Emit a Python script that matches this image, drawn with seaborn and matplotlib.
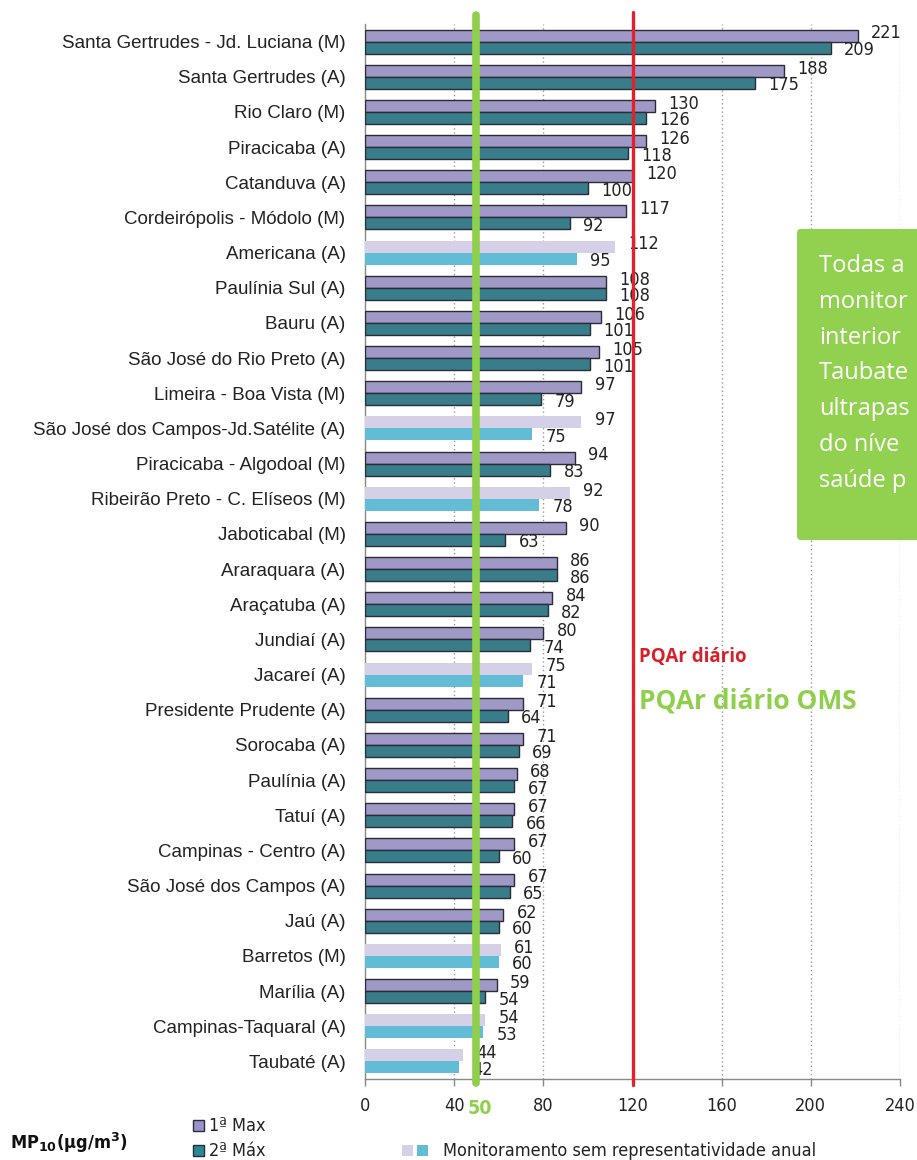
import numpy as np
import pandas as pd
import matplotlib
matplotlib.use("Agg")
import matplotlib.pyplot as plt
import matplotlib.font_manager as fm
import seaborn as sns
from matplotlib.patches import Rectangle, FancyBboxPatch

# ---------------- data ----------------
stations = [
    "Santa Gertrudes - Jd. Luciana (M)", "Santa Gertrudes (A)", "Rio Claro (M)",
    "Piracicaba (A)", "Catanduva (A)", "Cordeirópolis - Módolo (M)", "Americana (A)",
    "Paulínia Sul (A)", "Bauru (A)", "São José do Rio Preto (A)", "Limeira - Boa Vista (M)",
    "São José dos Campos-Jd.Satélite (A)", "Piracicaba - Algodoal (M)",
    "Ribeirão Preto - C. Elíseos (M)", "Jaboticabal (M)", "Araraquara (A)", "Araçatuba (A)",
    "Jundiaí (A)", "Jacareí (A)", "Presidente Prudente (A)", "Sorocaba (A)", "Paulínia (A)",
    "Tatuí (A)", "Campinas - Centro (A)", "São José dos Campos (A)", "Jaú (A)",
    "Barretos (M)", "Marília (A)", "Campinas-Taquaral (A)", "Taubaté (A)",
]
max1 = [221, 188, 130, 126, 120, 117, 112, 108, 106, 105, 97, 97, 94, 92, 90, 86, 84,
        80, 75, 71, 71, 68, 67, 67, 67, 62, 61, 59, 54, 44]
max2 = [209, 175, 126, 118, 100, 92, 95, 108, 101, 101, 79, 75, 83, 78, 63, 86, 82,
        74, 71, 64, 69, 67, 66, 60, 65, 60, 60, 54, 53, 42]
representative = [True, True, True, True, True, True, False, True, True, True, True,
                  False, True, False, True, True, True, True, False, True, True, True,
                  True, True, True, True, False, True, False, False]
series_names = ["1ª Max", "2ª Máx"]
x_ticks = [0, 40, 80, 120, 160, 200, 240]
pqar_limit = 120
oms_limit = 50
# text box as visible in the (cropped) source image
box_lines = ["Todas a", "monitor", "interior", "Taubate", "ultrapas", "do níve", "saúde p"]

# ---------------- style ----------------
C_PURPLE = "#9A92CD"
C_TEAL = "#2A8796"
C_LAV = "#D5D0E8"
C_CYAN = "#63BCD5"
C_GREEN = "#8FCF4C"
C_BOX = "#92D050"
C_RED = "#E1222B"
EDGE = "#2B2B3A"

sns.set_theme(style="white")
plt.rcParams["font.family"] = ["Liberation Sans", "DejaVu Sans"]

# pick a condensed face if one is installed
names = {f.name for f in fm.fontManager.ttflist}
NARROW_KW = {"family": ["Liberation Sans", "DejaVu Sans"]}
if "Liberation Sans Narrow" in names:
    NARROW_KW = {"family": ["Liberation Sans Narrow", "DejaVu Sans"]}
elif "DejaVu Sans Condensed" in names:
    NARROW_KW = {"family": ["DejaVu Sans Condensed", "DejaVu Sans"]}
else:
    cond = [f for f in fm.fontManager.ttflist
            if f.name == "DejaVu Sans" and f.stretch == "condensed" and f.weight in (400, "normal")]
    if cond:
        NARROW_KW = {"family": ["DejaVu Sans"], "fontstretch": "condensed"}
NSIZE = 13 if "Liberation Sans" not in NARROW_KW["family"][0] or "Narrow" in NARROW_KW["family"][0] else 12.5

W, H = 917, 1160
fig = plt.figure(figsize=(W / 100, H / 100), dpi=100)

def fx(px):
    return px / W

def fy(py):
    return 1 - py / H

ax_l, ax_r, ax_t, ax_b = 365, 900, 24, 1079
ax = fig.add_axes([fx(ax_l), fy(ax_b), fx(ax_r - ax_l), (ax_b - ax_t) / H])

df = pd.DataFrame({
    "station": stations * 2,
    "value": max1 + max2,
    "serie": [series_names[0]] * len(stations) + [series_names[1]] * len(stations),
})

sns.barplot(data=df, y="station", x="value", hue="serie", orient="h",
            order=stations, hue_order=series_names, palette=[C_PURPLE, C_TEAL],
            width=0.68, dodge=True, edgecolor=EDGE, linewidth=1.0,
            legend=False, errorbar=None, ax=ax, zorder=3)

light = [C_LAV, C_CYAN]
for si, cont in enumerate(ax.containers):
    for j, bar in enumerate(cont):
        if not representative[j]:
            bar.set_facecolor(light[si])
            bar.set_edgecolor("none")

# value labels
off = 6
for si, cont in enumerate(ax.containers):
    vals = max1 if si == 0 else max2
    for j, bar in enumerate(cont):
        yc = bar.get_y() + bar.get_height() / 2
        dy = -0.06 if si == 0 else 0.07
        ax.text(vals[j] + off, yc + dy, f"{vals[j]}", ha="left", va="center",
                fontsize=NSIZE, color="#222222", zorder=5, **NARROW_KW)

ax.set_xlim(0, 240)
ax.set_ylim(len(stations) - 0.5, -0.5)
ax.set_xticks(x_ticks)
ax.set_xticklabels([str(t) for t in x_ticks], fontsize=NSIZE, **NARROW_KW)
ax.set_yticks(range(len(stations)))
ax.set_yticklabels(stations, fontsize=13.5, color="#222222")
ax.set_yticks(np.arange(-0.5, len(stations), 1.0), minor=True)
ax.tick_params(axis="y", which="major", length=0, pad=14)
ax.tick_params(axis="y", which="minor", length=5, color="#888888", width=1)
ax.tick_params(axis="x", which="major", length=5, color="#888888", width=1,
               direction="out", bottom=True, pad=8, labelcolor="#222222")
ax.set_xlabel("")
ax.set_ylabel("")
for s in ["top", "right"]:
    ax.spines[s].set_visible(False)
for s in ["left", "bottom"]:
    ax.spines[s].set_color("#888888")
    ax.spines[s].set_linewidth(1)

for t in x_ticks[1:]:
    ax.axvline(t, color="#999999", linestyle=(0, (1, 2)), linewidth=1, zorder=1)

ax.axvline(pqar_limit, ymin=-0.006, ymax=1.011, color=C_RED, linewidth=2.4,
           zorder=6, clip_on=False)
ax.axvline(oms_limit, ymin=-0.004, ymax=1.009, color=C_GREEN, linewidth=5.5,
           zorder=6, clip_on=False)

# annotations
ax.text(123, 17.5, "PQAr diário", color="#D8202B", fontsize=13.5,
        fontweight="bold", family=["Open Sans", "DejaVu Sans"], ha="left", va="center")
ax.text(123, 18.75, "PQAr diário OMS", color=C_GREEN, fontsize=19,
        fontweight="bold", family=["Open Sans", "DejaVu Sans"], ha="left", va="center")
fig.text(fx(480), fy(1108), "50", color=C_GREEN, fontsize=14, fontweight="bold",
         ha="center", va="center", **NARROW_KW)

# green info box (cropped by the figure edge, as in the source)
box = FancyBboxPatch((fx(797), fy(540)), fx(200), (540 - 229) / H,
                     boxstyle="round,pad=0,rounding_size=0.004",
                     transform=fig.transFigure, facecolor=C_BOX,
                     edgecolor="none", zorder=10)
fig.patches.append(box)
for k, line in enumerate(box_lines):
    fig.text(fx(819), fy(266 + k * 35.8), line, color="white", fontsize=17,
             family=["Open Sans", "DejaVu Sans"], ha="left", va="center", zorder=11)

# legend
def sq(px, py, color, edge):
    r = Rectangle((fx(px), fy(py + 11)), fx(11), 11 / H, transform=fig.transFigure,
                  facecolor=color, edgecolor=edge, linewidth=1)
    fig.patches.append(r)

sq(193, 1120, C_PURPLE, EDGE)
sq(193, 1145, C_TEAL, EDGE)
fig.text(fx(209), fy(1126), "1ª Max", fontsize=NSIZE, va="center", color="#222222", **NARROW_KW)
fig.text(fx(209), fy(1151), "2ª Máx", fontsize=NSIZE, va="center", color="#222222", **NARROW_KW)
sq(402, 1145, C_LAV, "none")
sq(417, 1145, C_CYAN, "none")
fig.text(fx(443), fy(1151), "Monitoramento sem representatividade anual", fontsize=NSIZE,
         va="center", color="#222222", **NARROW_KW)
fig.text(fx(10), fy(1143), r"MP$_{\mathbf{10}}$(µg/m$^{\mathbf{3}}$)", fontsize=13,
         fontweight="bold", va="center", color="#111111", **NARROW_KW)

fig.savefig("out.png", dpi=100)
